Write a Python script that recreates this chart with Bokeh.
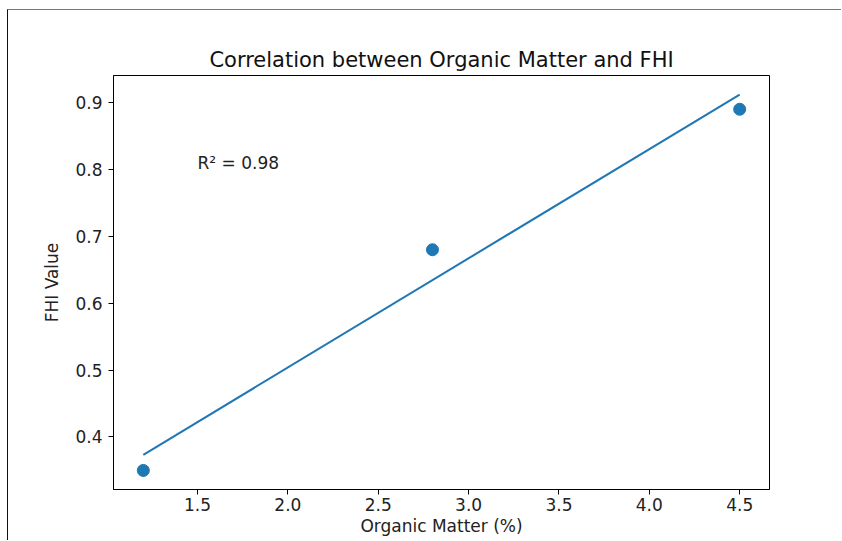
import numpy as np
from bokeh.plotting import figure
from bokeh.models import FixedTicker, Label, ColumnDataSource
from bokeh.embed import file_html
from bokeh.resources import INLINE

# data
organic_matter = [1.2, 2.8, 4.5]
fhi_value = [0.35, 0.68, 0.89]
r_squared_text = "R² = 0.98"
x_ticks = [1.5, 2.0, 2.5, 3.0, 3.5, 4.0, 4.5]
y_ticks = [0.4, 0.5, 0.6, 0.7, 0.8, 0.9]

slope, intercept = np.polyfit(organic_matter, fhi_value, 1)
fit_x = [min(organic_matter), max(organic_matter)]
fit_y = [slope * v + intercept for v in fit_x]

FONT = "DejaVu Sans"
BLUE = "#1f77b4"

p = figure(width=834, height=531, output_backend="svg", toolbar_location=None,
           x_range=(1.035, 4.665), y_range=(0.3215, 0.9405),
           min_border_left=105, min_border_right=73, min_border_top=65, min_border_bottom=52,
           title="Correlation between Organic Matter and FHI")
p.margin = (9, 0, 0, 7)
p.styles = {"border-top": "1px solid #777777", "border-left": "1px solid #111111"}

p.title.align = "center"
p.title.text_font = FONT
p.title.text_font_size = "21px"
p.title.text_font_style = "normal"
p.title.text_color = "#111111"
p.title.standoff = 8

p.xgrid.visible = False
p.ygrid.visible = False
p.outline_line_color = "black"
p.outline_line_alpha = 1

for ax in (p.xaxis[0], p.yaxis[0]):
    ax.major_tick_in = 0
    ax.major_tick_out = 5
    ax.minor_tick_out = 0
    ax.minor_tick_in = 0
    ax.axis_line_color = "black"
    ax.major_tick_line_color = "black"
    ax.major_label_text_font = FONT
    ax.major_label_text_font_size = "17px"
    ax.major_label_text_color = "#222222"
    ax.axis_label_text_font = FONT
    ax.axis_label_text_font_size = "17px"
    ax.axis_label_text_font_style = "normal"
    ax.axis_label_text_color = "#222222"

p.xaxis.ticker = FixedTicker(ticks=x_ticks)
p.yaxis.ticker = FixedTicker(ticks=y_ticks)
p.xaxis.major_label_overrides = {t: f"{t:.1f}" for t in x_ticks}
p.yaxis.major_label_overrides = {t: f"{t:.1f}" for t in y_ticks}
p.xaxis.axis_label = "Organic Matter (%)"
p.yaxis.axis_label = "FHI Value"
p.xaxis.major_label_standoff = 3
p.yaxis.major_label_standoff = 6
p.xaxis.axis_label_standoff = 2
p.yaxis.axis_label_standoff = 10

src = ColumnDataSource(dict(x=organic_matter, y=fhi_value))
p.scatter("x", "y", source=src, size=12, color=BLUE, line_color=BLUE)
p.line(fit_x, fit_y, line_width=2, color=BLUE)

p.add_layout(Label(x=1.5, y=0.8, y_offset=6, text=r_squared_text, text_font=FONT,
                   text_font_size="17px", text_color="#222222", text_baseline="alphabetic"))

open("out.html", "w").write(file_html(p, INLINE))
